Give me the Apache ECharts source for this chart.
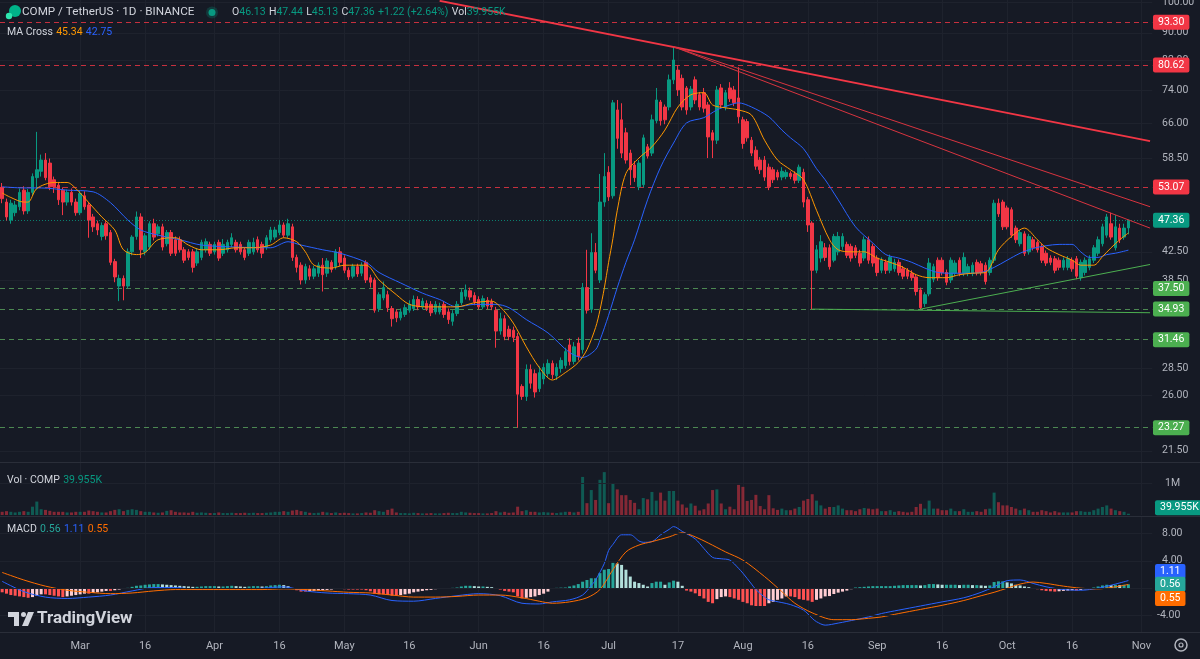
<!DOCTYPE html>
<html><head><meta charset="utf-8">
<script src="https://cdn.jsdelivr.net/npm/echarts/dist/echarts.min.js"></script>
<style>html,body{margin:0;padding:0;background:#161a25;overflow:hidden}#c{width:1200px;height:659px}</style>
</head><body><div id="c"></div>
<script>
// ---------- DATA ----------
const startDate = '2023-02-11';
const categoryCount = 266;
const tickDates = ['2023-03-01','2023-03-16','2023-04-01','2023-04-16','2023-05-01','2023-05-16','2023-06-01','2023-06-16','2023-07-01','2023-07-17','2023-08-01','2023-08-16','2023-09-01','2023-09-16','2023-10-01','2023-10-16','2023-11-01'];
const tickLabels = ['Mar','16','Apr','16','May','16','Jun','16','Jul','17','Aug','16','Sep','16','Oct','16','Nov'];
// [open, close, low, high]
const ohlc = [
[53.0,51.0,50.2,53.8],[50.4,47.9,47.3,51.0],[47.4,50.2,46.8,50.8],[48.6,49.9,48.0,50.6],[49.6,52.1,49.0,52.8],[52.5,48.9,48.3,53.2],[48.9,52.1,48.4,52.7],[52.1,55.0,51.6,55.6],[54.8,56.3,52.6,64.1],[56.0,58.2,55.0,59.3],
[58.2,54.8,54.3,59.6],[57.6,53.1,52.5,58.5],[54.4,53.1,52.0,55.0],[53.4,50.8,49.9,54.0],[52.5,50.4,48.2,53.0],[50.4,52.1,49.8,52.6],[52.1,50.4,49.8,52.8],[50.4,48.6,48.1,51.0],[48.6,51.9,48.2,52.4],[51.5,49.6,49.1,52.3],
[49.9,47.4,44.6,50.4],[47.9,46.3,45.5,48.4],[46.8,45.8,45.0,47.3],[44.8,46.5,44.2,47.0],[46.8,44.9,44.3,47.2],[45.4,41.0,40.6,45.8],[41.1,39.0,38.3,41.5],[37.8,38.8,35.9,39.3],[38.8,37.8,36.0,39.2],[37.8,42.5,37.5,43.0],
[42.5,44.7,42.0,45.0],[44.8,47.9,44.3,48.8],[47.9,42.8,41.6,48.5],[42.5,44.9,42.0,45.3],[43.2,46.8,42.8,47.2],[46.8,44.7,44.2,47.6],[45.2,46.3,44.8,46.7],[46.3,43.2,42.7,46.8],[43.7,45.4,43.3,45.8],[45.4,42.3,41.9,45.8],
[44.3,42.3,41.9,44.8],[44.3,42.8,42.4,44.8],[42.8,41.3,40.9,43.2],[42.5,41.7,41.3,42.9],[42.5,40.3,39.6,42.9],[40.9,42.5,40.5,43.0],[41.7,43.9,41.3,44.3],[42.8,44.0,42.4,44.5],[43.6,42.3,41.9,44.0],[42.5,43.6,42.1,44.0],
[43.9,41.6,41.2,44.3],[42.3,43.6,41.9,44.4],[42.8,43.9,42.4,44.3],[43.6,44.6,43.2,45.3],[43.9,42.8,42.4,44.3],[43.6,42.5,42.1,44.0],[42.8,41.7,41.3,43.2],[42.3,43.9,41.9,44.3],[42.5,43.9,42.1,44.6],[44.3,42.8,42.4,44.8],
[43.6,42.3,41.6,44.0],[43.2,44.6,42.8,45.0],[44.3,45.8,43.9,46.3],[44.7,45.8,44.3,46.3],[45.4,46.6,45.0,47.4],[46.6,45.0,44.6,47.0],[45.0,46.8,44.6,47.6],[46.3,41.7,41.2,46.8],[41.7,40.3,39.6,42.1],[40.6,38.6,38.0,41.0],
[38.6,40.4,38.1,40.8],[40.1,39.1,38.6,40.6],[39.1,40.1,38.7,40.5],[39.5,40.6,39.0,41.0],[40.6,39.3,37.1,41.6],[39.5,41.2,39.0,41.6],[41.0,40.0,39.6,41.3],[40.4,42.5,40.0,42.9],[42.5,41.0,40.5,43.2],[41.6,39.9,39.5,42.0],
[39.9,39.0,38.6,40.3],[39.1,40.4,38.8,40.8],[40.4,39.4,39.0,40.8],[39.5,40.6,39.1,41.0],[41.0,38.6,38.2,41.3],[38.9,38.3,37.6,39.3],[38.6,34.8,34.5,38.9],[35.0,36.7,34.6,37.0],[36.3,37.6,36.0,38.4],[36.7,35.1,34.6,37.2],
[35.0,33.8,32.9,35.3],[34.6,33.9,33.4,34.9],[33.9,34.6,33.6,35.0],[34.3,35.1,34.0,35.5],[34.8,35.5,34.5,36.0],[35.0,36.1,34.7,36.6],[36.1,35.2,34.8,36.5],[35.2,35.9,34.9,36.3],[35.6,35.0,34.7,36.0],[35.5,34.5,34.1,35.9],
[34.6,35.5,34.3,35.9],[34.6,35.3,34.3,35.7],[35.5,34.3,33.9,35.9],[34.6,33.7,33.2,35.0],[33.5,34.4,33.0,34.8],[34.4,35.5,34.1,35.9],[35.7,37.0,35.4,37.4],[36.5,37.3,36.1,38.0],[37.2,36.4,36.0,37.6],[36.6,35.8,35.4,37.0],
[36.1,35.2,34.9,36.5],[35.2,36.2,34.9,36.6],[36.0,35.3,34.9,36.4],[35.8,35.2,34.8,36.2],[34.8,32.4,30.6,35.2],[32.4,33.8,32.0,34.5],[33.8,31.8,31.4,34.2],[32.6,31.8,31.4,33.0],[32.5,31.7,31.2,32.9],[31.8,26.1,23.27,32.2],
[26.8,25.9,25.6,27.0],[25.9,28.4,25.5,28.9],[28.4,27.1,26.6,28.9],[28.0,26.3,25.8,28.4],[26.6,28.1,26.3,28.7],[27.5,28.6,27.0,29.0],[28.0,29.0,27.6,29.4],[29.0,27.9,27.5,29.3],[27.8,28.6,27.4,29.0],[28.5,29.3,28.1,29.6],
[28.8,30.2,28.5,30.6],[30.9,29.2,28.8,31.6],[29.2,30.7,28.9,31.2],[31.1,29.7,29.3,31.7],[30.4,37.6,30.0,38.2],[37.6,34.8,34.4,42.8],[34.9,42.4,34.5,45.3],[42.4,39.9,39.5,43.8],[38.6,50.4,38.2,55.5],[50.4,55.0,49.6,59.6],
[55.8,51.3,50.6,57.0],[51.5,70.8,51.0,71.5],[69.1,62.7,60.5,71.5],[66.8,59.6,58.6,70.7],[63.9,58.2,57.5,65.0],[59.6,56.3,53.4,60.3],[57.2,54.8,54.0,58.0],[53.1,57.6,52.5,58.2],[53.5,62.8,53.0,63.5],[60.9,59.0,58.5,61.5],
[59.6,66.8,59.0,68.0],[66.6,71.5,66.0,74.5],[71.0,66.6,65.5,71.5],[69.8,66.8,65.8,70.4],[69.8,76.6,69.0,78.0],[76.6,82.0,75.5,85.8],[79.2,74.0,72.5,80.5],[77.0,69.8,69.0,78.0],[74.5,69.1,68.0,75.0],[69.8,74.2,69.0,75.0],
[76.6,71.5,70.5,77.5],[72.8,69.8,69.0,73.5],[73.3,69.5,68.5,74.5],[70.3,63.0,58.6,71.0],[63.9,62.3,58.6,64.5],[62.3,74.0,61.5,75.0],[74.5,70.3,69.5,75.5],[69.8,73.3,69.0,74.0],[74.5,71.8,71.0,76.0],[74.0,70.8,70.0,75.0],
[72.0,67.5,66.0,80.0],[66.8,61.6,60.5,67.5],[66.4,62.8,62.0,67.0],[62.3,59.6,59.0,63.0],[60.2,57.0,56.3,61.0],[58.2,56.3,55.5,58.8],[58.2,54.9,54.2,59.0],[56.8,53.1,52.5,57.5],[56.3,54.4,53.8,56.8],[55.8,54.9,54.3,56.3],
[54.9,56.0,54.3,56.8],[55.0,55.8,54.5,56.3],[55.6,55.0,54.5,56.0],[55.5,54.3,53.7,56.0],[54.3,56.8,53.8,57.3],[55.8,50.4,49.5,56.5],[50.8,46.6,45.5,51.3],[46.9,39.9,34.93,47.2],[39.9,42.8,39.5,43.5],[41.6,44.0,41.0,45.0],
[43.1,41.7,41.2,43.8],[43.1,40.4,40.0,43.6],[41.3,44.8,41.0,45.2],[42.5,44.8,42.0,45.5],[43.3,44.8,42.8,45.3],[43.6,42.0,41.6,44.0],[43.3,41.6,41.1,43.7],[43.1,42.0,41.6,43.5],[42.3,40.9,40.4,42.8],[41.6,44.3,41.2,44.8],
[44.3,41.3,40.8,44.8],[43.3,40.9,40.4,43.7],[41.6,39.6,39.1,42.0],[39.9,41.3,39.5,41.7],[41.0,39.9,39.4,41.4],[39.9,41.7,39.5,42.1],[40.1,41.0,39.7,41.5],[41.0,39.6,39.2,41.4],[40.1,39.1,38.7,40.5],[39.9,39.1,38.7,40.2],
[39.5,38.9,38.5,39.9],[39.0,37.1,36.6,39.4],[37.3,35.1,34.9,37.6],[35.6,36.7,35.2,37.0],[36.8,40.9,36.5,41.6],[38.7,40.4,38.3,40.8],[41.3,38.9,38.5,41.7],[41.3,39.6,39.2,41.7],[39.6,38.3,37.9,40.0],[38.6,41.3,38.2,41.7],
[39.5,40.9,39.1,41.3],[41.3,39.5,39.1,41.7],[39.5,41.7,39.1,42.4],[39.5,40.4,39.1,40.8],[39.5,40.6,39.1,41.0],[41.0,39.6,39.2,41.4],[40.8,39.6,39.2,41.2],[40.6,38.4,38.0,41.0],[39.6,41.3,39.2,41.7],[41.3,50.2,40.9,50.8],
[50.2,48.4,47.9,51.0],[50.4,46.3,45.8,50.8],[49.4,46.3,45.9,49.8],[49.1,45.0,44.6,49.5],[46.1,44.3,43.8,46.5],[43.7,45.4,43.3,45.8],[45.2,42.3,41.9,45.6],[42.5,44.8,42.1,45.2],[44.3,43.1,42.7,44.7],[43.9,42.8,42.4,44.2],
[43.3,41.3,40.9,43.7],[42.3,40.9,40.5,42.7],[41.6,41.0,40.6,42.0],[41.5,39.9,39.5,41.9],[41.3,40.3,39.9,41.7],[40.3,41.3,39.9,41.7],[40.3,41.5,39.9,41.9],[41.3,40.1,39.7,41.7],[41.5,39.1,38.7,41.9],[38.9,41.0,38.5,41.4],
[39.6,41.3,39.2,41.7],[40.3,41.5,39.9,42.0],[41.3,43.1,40.9,43.5],[42.3,44.3,41.9,44.8],[43.7,46.3,43.3,46.8],[45.0,47.9,44.6,48.4],[46.8,44.7,44.3,48.6],[43.1,46.3,42.7,48.2],[46.1,44.3,43.8,46.8],[44.7,46.1,44.3,46.8],
[46.13,47.36,45.13,47.44]
];
// volume in millions
const volumes = [
0.1,0.12,0.1,0.08,0.1,0.12,0.1,0.26,0.42,0.18, 0.16,0.13,0.1,0.1,0.1,0.08,0.08,0.1,0.1,0.1,
0.14,0.12,0.1,0.08,0.08,0.12,0.16,0.18,0.12,0.16, 0.18,0.16,0.12,0.1,0.1,0.08,0.07,0.08,0.13,0.15,
0.1,0.08,0.08,0.07,0.1,0.07,0.08,0.07,0.06,0.06, 0.08,0.06,0.06,0.07,0.06,0.06,0.07,0.06,0.07,0.06,
0.06,0.07,0.08,0.1,0.1,0.12,0.1,0.14,0.16,0.12, 0.1,0.07,0.06,0.07,0.1,0.08,0.06,0.08,0.06,0.07,
0.06,0.05,0.05,0.06,0.08,0.07,0.15,0.12,0.1,0.16, 0.2,0.08,0.06,0.06,0.05,0.07,0.06,0.05,0.05,0.06,
0.05,0.05,0.06,0.07,0.06,0.06,0.1,0.08,0.07,0.06, 0.06,0.05,0.05,0.06,0.12,0.08,0.1,0.07,0.08,0.26,
0.12,0.15,0.1,0.1,0.08,0.09,0.08,0.07,0.06,0.08, 0.1,0.1,0.08,0.1,1.19,0.37,0.78,0.47,1.1,1.34,
0.37,1.0,0.8,0.62,0.62,0.47,0.38,0.18,0.53,0.49, 0.72,0.45,0.7,0.45,0.75,0.75,0.45,0.33,0.23,0.36,
0.29,0.14,0.18,0.36,0.78,0.8,0.36,0.18,0.26,0.18, 0.94,0.88,0.44,0.47,0.63,0.28,0.18,0.62,0.21,0.16,
0.2,0.15,0.15,0.2,0.25,0.45,0.5,0.65,0.45,0.3, 0.2,0.25,0.25,0.3,0.2,0.15,0.15,0.12,0.18,0.22,
0.2,0.18,0.2,0.12,0.12,0.15,0.1,0.12,0.1,0.08, 0.1,0.25,0.35,0.2,0.45,0.2,0.2,0.15,0.15,0.2,
0.12,0.12,0.18,0.1,0.1,0.12,0.1,0.18,0.2,0.7, 0.4,0.3,0.3,0.25,0.2,0.15,0.2,0.15,0.1,0.1,
0.15,0.12,0.08,0.12,0.08,0.08,0.08,0.08,0.12,0.12, 0.1,0.1,0.15,0.2,0.25,0.3,0.2,0.15,0.12,0.1,0.04
];
const macdHist = [
-0.6,-0.8,-1.0,-1.1,-1.2,-1.3,-1.4,-1.3,-1.1,-0.9, -0.9,-1.0,-1.1,-1.2,-1.3,-1.2,-1.1,-1.0,-0.9,-0.8,
-0.8,-0.7,-0.6,-0.5,-0.4,-0.4,-0.3,-0.2,-0.1,0.05, 0.2,0.35,0.4,0.5,0.55,0.6,0.6,0.55,0.5,0.45,
0.4,0.35,0.3,0.25,0.2,0.2,0.25,0.3,0.3,0.3, 0.25,0.25,0.3,0.35,0.3,0.25,0.2,0.25,0.3,0.3,
0.25,0.3,0.4,0.45,0.5,0.45,0.3,0.0,-0.3,-0.5, -0.5,-0.45,-0.4,-0.35,-0.3,-0.25,-0.2,-0.1,-0.1,-0.15,
-0.2,-0.2,-0.2,-0.2,-0.3,-0.45,-0.8,-0.9,-0.9,-1.0, -1.1,-1.1,-1.0,-0.9,-0.8,-0.6,-0.5,-0.4,-0.3,-0.25,
-0.15,-0.1,-0.05,0.0,0.05,0.1,0.25,0.35,0.35,0.3, 0.25,0.25,0.2,0.15,-0.1,-0.2,-0.4,-0.5,-0.6,-1.2,
-1.5,-1.4,-1.3,-1.2,-1.0,-0.8,-0.5,0.0,0.05,0.08, 0.1,0.25,0.4,0.6,0.95,1.2,1.45,1.45,2.2,2.7,
2.8,3.7,3.6,3.4,2.7,1.7,0.95,0.75,0.5,0.25, 0.75,0.95,0.95,0.5,0.85,1.1,0.95,0.35,-0.35,-0.5,
-0.75,-1.15,-1.5,-2.0,-2.2,-1.6,-1.3,-1.2,-1.3,-1.5, -1.7,-2.0,-2.2,-2.5,-2.6,-2.6,-2.6,-2.2,-2.0,-1.7,
-1.5,-1.2,-1.2,-1.3,-1.6,-1.7,-1.8,-2.0,-1.7,-1.5, -1.2,-1.15,-0.85,-0.65,-0.5,-0.35,-0.15,0.1,0.15,0.2,
0.25,0.3,0.3,0.3,0.3,0.3,0.35,0.4,0.45,0.45, 0.45,0.45,0.4,0.45,0.6,0.6,0.55,0.5,0.5,0.5,
0.5,0.45,0.5,0.5,0.45,0.45,0.4,0.35,0.4,0.9, 1.0,1.0,0.85,0.7,0.5,0.4,0.25,0.15,0.0,-0.15,
-0.3,-0.4,-0.45,-0.5,-0.45,-0.4,-0.35,-0.3,-0.35,-0.25, -0.15,-0.05,0.1,0.25,0.4,0.5,0.45,0.5,0.45,0.5,0.56
];
// [day index, value]
const maFast = [[0,52.0],[2,51.2],[5,50.4],[6,50.4],[8,52.8],[12,53.9],[15,53.9],[17,52.8],[20,50.3],[23,47.9],[26,45.8],[28,42.8],[31,42.1],[33,42.4],[36,44.3],[40,44.6],[43,43.5],[46,42.8],[50,42.8],[54,43.1],[58,43.1],[62,43.5],[65,44.6],[68,44.0],[70,42.5],[72,40.6],[76,40.2],[79,40.6],[84,40.6],[87,38.6],[91,36.7],[94,35.5],[98,35.2],[102,35.2],[105,35.2],[109,35.7],[113,35.9],[115,35.2],[118,33.3],[121,30.7],[124,28.6],[127,27.4],[130,28.1],[133,29.1],[135,30.4],[137,32.8],[138,34.8],[139,37.5],[140,41.0],[141,44.5],[142,49.0],[144,55.6],[147,58.6],[150,60.9],[153,64.5],[156,69.8],[159,72.8],[162,73.3],[164,70.3],[167,69.6],[170,69.1],[173,67.9],[176,62.3],[179,58.2],[182,56.3],[185,54.4],[188,49.0],[191,44.3],[193,42.8],[196,42.5],[199,42.5],[202,41.6],[205,41.0],[208,40.3],[211,39.3],[214,38.9],[218,38.9],[221,39.3],[224,39.5],[227,39.6],[230,42.8],[233,44.8],[236,46.1],[239,44.3],[241,43.1],[244,42.1],[247,41.3],[249,40.6],[252,40.6],[254,41.8],[256,43.1],[258,44.3],[260,45.34]];
const maSlow = [[0,53.1],[5,52.9],[9,52.9],[15,52.5],[21,52.2],[25,50.3],[29,47.4],[32,45.8],[36,45.0],[41,44.3],[46,43.5],[54,43.2],[62,43.1],[66,44.0],[69,43.5],[74,42.8],[78,42.3],[84,41.0],[87,39.6],[92,38.2],[97,36.9],[101,36.1],[105,35.2],[109,35.5],[114,35.5],[117,35.1],[121,33.7],[126,32.2],[131,30.1],[134,29.6],[137,30.4],[138,31.4],[140,34.2],[142,37.6],[144,41.0],[146,44.3],[149,50.8],[152,56.8],[155,61.7],[158,66.1],[162,67.3],[165,69.1],[168,70.3],[170,70.8],[173,69.8],[177,67.5],[180,64.5],[182,62.8],[185,60.5],[188,56.5],[190,54.4],[193,50.8],[197,46.3],[201,43.8],[204,42.1],[207,41.6],[210,41.0],[213,40.2],[216,39.6],[219,39.5],[223,39.5],[226,39.6],[229,40.3],[232,41.3],[235,42.3],[238,43.0],[241,43.4],[244,43.6],[247,43.6],[249,42.5],[251,41.7],[253,41.7],[255,42.1],[257,42.3],[260,42.75]];
const macdLine = [[0,1.0],[5,-0.5],[10,-1.3],[15,-1.5],[20,-1.3],[25,-1.0],[30,-0.4],[35,0.1],[40,0.1],[45,-0.2],[50,-0.1],[55,-0.1],[60,0.0],[65,0.2],[70,-0.4],[75,-0.7],[80,-0.8],[85,-1.0],[90,-1.8],[95,-1.9],[100,-1.5],[105,-1.1],[110,-0.8],[115,-1.1],[120,-2.2],[124,-2.3],[127,-2.0],[131,-1.7],[134,-1.0],[136,0.4],[137,1.2],[139,3.6],[140,5.5],[141,6.4],[143,7.8],[145,7.8],[147,6.9],[148,6.7],[150,6.8],[152,7.8],[154,8.6],[155,9.0],[157,8.3],[160,7.2],[162,5.8],[164,4.5],[166,4.3],[168,4.1],[170,2.9],[171,2.2],[173,0.6],[174,-0.2],[176,-1.3],[177,-1.7],[180,-2.1],[182,-2.4],[185,-3.2],[187,-4.4],[188,-4.9],[190,-5.4],[193,-5.1],[197,-4.6],[200,-4.2],[203,-3.7],[207,-3.2],[212,-2.6],[217,-2.0],[222,-1.4],[226,-0.6],[229,0.2],[232,1.1],[235,1.2],[238,0.7],[241,0.2],[245,-0.2],[249,-0.3],[253,0.0],[257,0.6],[260,1.11]];
const macdSignal = [[0,2.3],[5,1.2],[10,0.3],[15,-0.3],[20,-0.6],[25,-0.8],[30,-0.7],[35,-0.4],[40,-0.2],[45,-0.2],[50,-0.2],[55,-0.2],[60,-0.2],[65,-0.1],[70,-0.2],[75,-0.4],[80,-0.6],[85,-0.7],[90,-1.0],[95,-1.3],[100,-1.3],[105,-1.2],[110,-1.0],[115,-1.0],[120,-1.4],[124,-1.9],[127,-2.2],[131,-2.0],[135,-1.4],[138,-0.2],[141,2.7],[144,5.3],[147,6.3],[150,6.8],[154,7.5],[157,8.1],[160,7.5],[163,6.6],[167,5.3],[171,4.1],[176,1.7],[180,-0.5],[183,-2.2],[187,-3.6],[192,-4.6],[196,-4.6],[200,-4.4],[203,-4.2],[207,-3.7],[212,-3.1],[217,-2.5],[222,-1.8],[226,-1.1],[229,-0.6],[232,0.0],[235,0.6],[238,0.9],[241,0.7],[245,0.3],[249,0.0],[253,-0.1],[257,0.2],[260,0.55]];
const priceTicks = [100, 90, 82, 74, 66, 58.5, 42.5, 38.5, 28.5, 26, 21.5];
const redLevels = [93.30, 80.62, 53.07];
const greenLevels = [37.50, 34.93, 31.46, 23.27];
const lastPrice = 47.36;
const trendThick = [[101,100.4],[265,62.1]];
const trendThinA = [[155,85.8],[265,49.6]];
const trendThinB = [[155,85.8],[265,46.1]];
const supportFlat = [[187,34.93],[265,34.5]];
const supportRise = [[212,34.93],[265,40.7]];
const volTicks = [1];
const lastVolume = 0.039955;
const macdTicks = [8, 4, -4];
const macdGridLines = [8, 4, 0, -4];
const macdLast = {hist: 0.56, macd: 1.11, signal: 0.55};

// ---------- BUILD ----------
const categories = [];
{ const d = new Date(startDate + 'T00:00:00Z');
  for (let k = 0; k < categoryCount; k++) { categories.push(d.toISOString().slice(0,10)); d.setUTCDate(d.getUTCDate()+1); } }

const UP = '#089981', DOWN = '#f23645';
const FONT = 'Roboto, "Noto Sans", sans-serif';
const GL = -2.17, GW = 1154.4;
const isTick = (i, v) => tickDates.indexOf(v) >= 0;

const volData = volumes.map((v, i) => ({value: v, itemStyle: {color: ohlc[i][1] >= ohlc[i][0] ? 'rgba(8,153,129,0.5)' : 'rgba(242,54,69,0.5)'}}));
const histData = macdHist.map((v, i) => {
  const p = i > 0 ? macdHist[i-1] : v;
  let c;
  if (v >= 0) c = v >= p ? '#26a69a' : '#b2dfdb'; else c = v > p ? '#ffcdd2' : '#ff5252';
  return {value: v, itemStyle: {color: c}};
});

const lineS = (data, color, width, x, y, extra) => Object.assign({type:'line', xAxisIndex:x, yAxisIndex:y, data, symbol:'none', silent:true, lineStyle:{color, width}, z:4}, extra||{});

const chart = echarts.init(document.getElementById('c'));
chart.setOption({
  backgroundColor: '#161a25',
  animation: false,
  textStyle: {fontFamily: FONT},
  grid: [
    {left: GL, width: GW, top: 0, height: 462},
    {left: GL, width: GW, top: 463, height: 52},
    {left: GL, width: GW, top: 517, height: 115}
  ],
  xAxis: [0,1,2].map(k => ({
    type: 'category', gridIndex: k, data: categories, boundaryGap: true,
    axisLine: {show: false}, axisTick: {show: false},
    axisLabel: k === 2 ? {show: true, interval: isTick, formatter: v => tickLabels[tickDates.indexOf(v)], color: '#b2b5be', fontSize: 11, margin: 9, fontFamily: FONT} : {show: false},
    splitLine: {show: true, interval: isTick, alignWithLabel: true, lineStyle: {color: '#1e222d', width: 1}}
  })),
  yAxis: [
    {type: 'log', logBase: 10, gridIndex: 0, min: 20.69, max: 100.7, axisLabel: {show: false}, splitLine: {show: false}, axisLine: {show: false}, axisTick: {show: false}},
    {type: 'value', gridIndex: 1, min: 0, max: 1.625, axisLabel: {show: false}, splitLine: {show: false}, axisLine: {show: false}, axisTick: {show: false}},
    {type: 'value', gridIndex: 2, min: -6.4, max: 10.4, axisLabel: {show: false}, splitLine: {show: false}, axisLine: {show: false}, axisTick: {show: false}}
  ],
  series: [
    {type: 'candlestick', xAxisIndex: 0, yAxisIndex: 0, data: ohlc, barWidth: 3, z: 3,
     itemStyle: {color: UP, color0: DOWN, borderColor: UP, borderColor0: DOWN, borderWidth: 1},
     markLine: {silent: true, symbol: ['none','none'], label: {show: false}, animation: false, z: 1,
       data: [].concat(
         priceTicks.map(v => ({yAxis: v, lineStyle: {color: '#1e222d', type: 'solid', width: 1}})),
         redLevels.map(v => ({yAxis: v, lineStyle: {color: '#f23645', type: [5,4], width: 1, opacity: 0.8}})),
         greenLevels.map(v => ({yAxis: v, lineStyle: {color: '#5fae62', type: [5,4], width: 1, opacity: 0.75}})),
         [{yAxis: lastPrice, lineStyle: {color: UP, type: [1,2], width: 1, opacity: 0.8}}]
       )}
    },
    lineS(maSlow, '#2962ff', 1, 0, 0, {smooth: 0.3}),
    lineS(maFast, '#ff9800', 1, 0, 0, {smooth: 0.3}),
    lineS(trendThick, '#f23645', 2, 0, 0, {z: 6}),
    lineS(trendThinA, '#d8343f', 1, 0, 0, {z: 6}),
    lineS(trendThinB, '#d8343f', 1, 0, 0, {z: 6}),
    lineS(supportFlat, '#4caf50', 1, 0, 0, {z: 6}),
    lineS(supportRise, '#4caf50', 1, 0, 0, {z: 6}),
    {type: 'bar', xAxisIndex: 1, yAxisIndex: 1, data: volData, barWidth: 3, silent: true,
     markLine: {silent: true, symbol: ['none','none'], label: {show: false}, animation: false,
       data: volTicks.map(v => ({yAxis: v, lineStyle: {color: '#1e222d', type: 'solid', width: 1}}))}},
    {type: 'bar', xAxisIndex: 2, yAxisIndex: 2, data: histData, barWidth: 3, silent: true,
     markLine: {silent: true, symbol: ['none','none'], label: {show: false}, animation: false,
       data: macdGridLines.map(v => ({yAxis: v, lineStyle: {color: '#1e222d', type: 'solid', width: 1}}))}},
    lineS(macdLine, '#2962ff', 1, 2, 2, {smooth: 0.3}),
    lineS(macdSignal, '#ff6d00', 1, 2, 2, {smooth: 0.3})
  ]
});

// ---------- LABELS placed through the axes ----------
const py = v => chart.convertToPixel({yAxisIndex: 0}, v);
const vy = v => chart.convertToPixel({yAxisIndex: 1}, v);
const my = v => chart.convertToPixel({yAxisIndex: 2}, v);
const txt = (x, y, text, fill, size, extra) => ({type: 'text', x, y, z: 50, silent: true,
  style: Object.assign({text, fill, font: size + 'px ' + FONT, verticalAlign: 'middle'}, extra || {})});
const badge = (x, y, text, bg) => ({type: 'text', x, y, z: 60, silent: true,
  style: {text, fill: '#ffffff', font: '10.5px ' + FONT, verticalAlign: 'middle', backgroundColor: bg, padding: [2,5,2,5], borderRadius: 2}});

const g = [];
// pane separators
[462.5, 516.5, 632.5].forEach(y => g.push({type: 'line', silent: true, z: 40, shape: {x1: 0, y1: y, x2: 1200, y2: y}, style: {stroke: '#2a2e39', lineWidth: 1}}));
// price scale
priceTicks.forEach(v => g.push(txt(1162, py(v), v.toFixed(2), '#b2b5be', 10.5)));
redLevels.forEach(v => g.push(badge(1153, py(v), v.toFixed(2), '#f23645')));
greenLevels.forEach(v => g.push(badge(1153, py(v), v.toFixed(2), '#4caf50')));
g.push(badge(1153, py(lastPrice), lastPrice.toFixed(2), UP));
// volume scale
volTicks.forEach(v => g.push(txt(1165, vy(v), v + 'M', '#b2b5be', 10.5)));
g.push(badge(1155, vy(lastVolume) - 6, '39.955K', UP));
// macd scale
macdTicks.forEach(v => g.push(txt(v < 0 ? 1157 : 1162, my(v), v.toFixed(2), '#b2b5be', 10.5)));
g.push(badge(1155, my(macdLast.macd) - 9, macdLast.macd.toFixed(2), '#2962ff'));
g.push(badge(1155, my(macdLast.hist), macdLast.hist.toFixed(2), '#26a69a'));
g.push(badge(1155, my(macdLast.signal) + 14, macdLast.signal.toFixed(2), '#ff6d00'));
// header
g.push({type: 'circle', silent: true, z: 50, shape: {cx: 15, cy: 11, r: 6}, style: {fill: '#00b389'}});
g.push({type: 'circle', silent: true, z: 51, shape: {cx: 9, cy: 16, r: 3.2}, style: {fill: '#2ee6b0'}});
g.push(txt(22, 12.5, 'COMP / TetherUS · 1D · BINANCE', '#d1d4dc', 11.7));
g.push({type: 'circle', silent: true, z: 50, shape: {cx: 212, cy: 12.5, r: 6}, style: {fill: 'rgba(8,153,129,0.25)'}});
g.push({type: 'circle', silent: true, z: 51, shape: {cx: 212, cy: 12.5, r: 3.5}, style: {fill: '#089981'}});
const F = '10.5px ' + FONT;
const rich = {l: {fill: '#d1d4dc', font: F}, v: {fill: '#089981', font: F}, o: {fill: '#ff9800', font: F}, b: {fill: '#2962ff', font: F}, t: {fill: '#26a69a', font: F}, r: {fill: '#ff6d00', font: F}};
g.push({type: 'text', x: 232, y: 12.5, z: 50, silent: true, style: {text: '{l|O}{v|46.13} {l|H}{v|47.44} {l|L}{v|45.13} {l|C}{v|47.36} {v|+1.22 (+2.64%)} {l|Vol}{v|39.955K}', verticalAlign: 'middle', rich}});
g.push({type: 'text', x: 7, y: 32, z: 50, silent: true, style: {text: '{l|MA Cross} {o|45.34} {b|42.75}', verticalAlign: 'middle', rich}});
g.push({type: 'text', x: 7, y: 480, z: 50, silent: true, style: {text: '{l|Vol · COMP} {v|39.955K}', verticalAlign: 'middle', rich}});
g.push({type: 'text', x: 7, y: 529, z: 50, silent: true, style: {text: '{l|MACD} {t|0.56} {b|1.11} {r|0.55}', verticalAlign: 'middle', rich}});
// TradingView watermark
g.push({type: 'polygon', silent: true, z: 50, shape: {points: [[8,612],[19,612],[19,626],[14,626],[14,617],[8,617]]}, style: {fill: '#d1d4dc'}});
g.push({type: 'circle', silent: true, z: 50, shape: {cx: 23.5, cy: 614.5, r: 2.5}, style: {fill: '#d1d4dc'}});
g.push({type: 'polygon', silent: true, z: 50, shape: {points: [[28,612],[34,612],[28,626],[22,626]]}, style: {fill: '#d1d4dc'}});
g.push(txt(37, 619, 'TradingView', '#d1d4dc', 17, {font: 'bold 17px ' + FONT}));
// settings gear
g.push({type: 'circle', silent: true, z: 50, shape: {cx: 1181, cy: 645, r: 6}, style: {fill: 'none', stroke: '#b2b5be', lineWidth: 1.5}});
g.push({type: 'circle', silent: true, z: 50, shape: {cx: 1181, cy: 645, r: 2}, style: {fill: 'none', stroke: '#b2b5be', lineWidth: 1.2}});
chart.setOption({graphic: {elements: g}});
</script></body></html>
